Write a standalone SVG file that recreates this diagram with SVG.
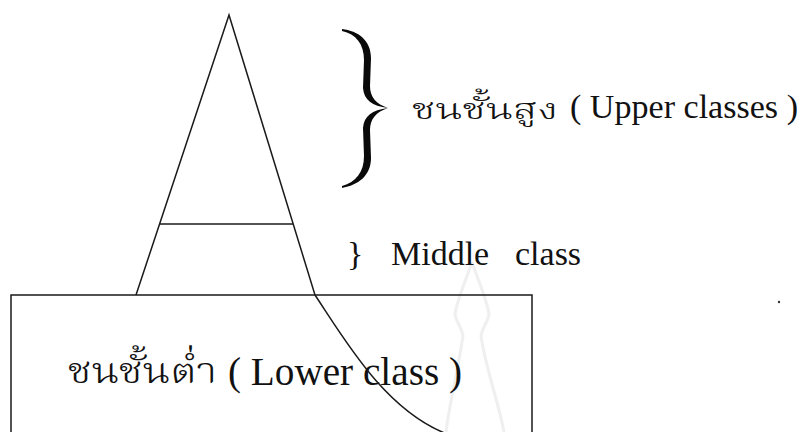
<svg xmlns="http://www.w3.org/2000/svg" width="810" height="432" viewBox="0 0 810 432">
  <style>
    .ln { fill: none; stroke: #1a1a1a; stroke-width: 1.5; }
    .txt { font-family: "Liberation Serif", "Noto Serif Thai", "Noto Sans Thai", serif; fill: #111; }
    .th { font-weight: 300; }
    .wm { fill: none; stroke: #efefef; stroke-width: 3; }
  </style>
  <rect x="0" y="0" width="810" height="432" fill="#ffffff"/>

  <!-- faint watermark -->
  <g id="watermark">
    <path class="wm" d="M472,262 C466,280 457,300 455,314 C456,322 462,328 463,336 C458,370 450,400 446,432"/>
    <path class="wm" d="M472,262 C478,280 487,300 489,314 C488,322 482,328 481,336 C486,370 498,400 504,432"/>
  </g>

  <g id="lower-class">
    <rect class="ln" x="11" y="295" width="521" height="150"/>
    <text class="txt" y="385" font-size="40"><tspan class="th" x="68" y="383" font-size="36" textLength="149" lengthAdjust="spacingAndGlyphs">ชนชั้นต่ำ</tspan><tspan x="228" y="385" textLength="234" lengthAdjust="spacingAndGlyphs">( Lower class )</tspan></text>
  </g>

  <g id="connectors">
    <path class="ln" d="M136,295 L229,15 L315,295"/>
    <line class="ln" x1="160" y1="224" x2="293" y2="224"/>
    <path class="ln" d="M315,295 C345,340 385,410 447,434"/>
  </g>

  <g id="upper-class">
    <path fill="#0a0a0a" d="M342,29 C358,31 371,40 371,58 L370,86 C370,97 376,104 388,108 C372,106 364,100 363,88 L364,60 C364,44 356,34 342,31 Z"/>
    <path fill="#0a0a0a" d="M388,108 C376,112 370,119 370,130 L371,158 C371,176 358,185 342,188 L342,186 C356,182 364,172 364,156 L363,128 C364,116 372,110 388,108 Z"/>
    <text class="txt" y="118" font-size="34"><tspan class="th" x="412" y="119" font-size="29" textLength="146" lengthAdjust="spacingAndGlyphs">ชนชั้นสูง</tspan><tspan x="570" y="118" textLength="228" lengthAdjust="spacingAndGlyphs">( Upper classes )</tspan></text>
  </g>

  <g id="middle-class">
    <text class="txt" y="265" font-size="34"><tspan x="347">}</tspan><tspan x="391">Middle</tspan><tspan x="515">class</tspan></text>
  </g>

  <circle cx="779" cy="302" r="1.2" fill="#333"/>
</svg>
